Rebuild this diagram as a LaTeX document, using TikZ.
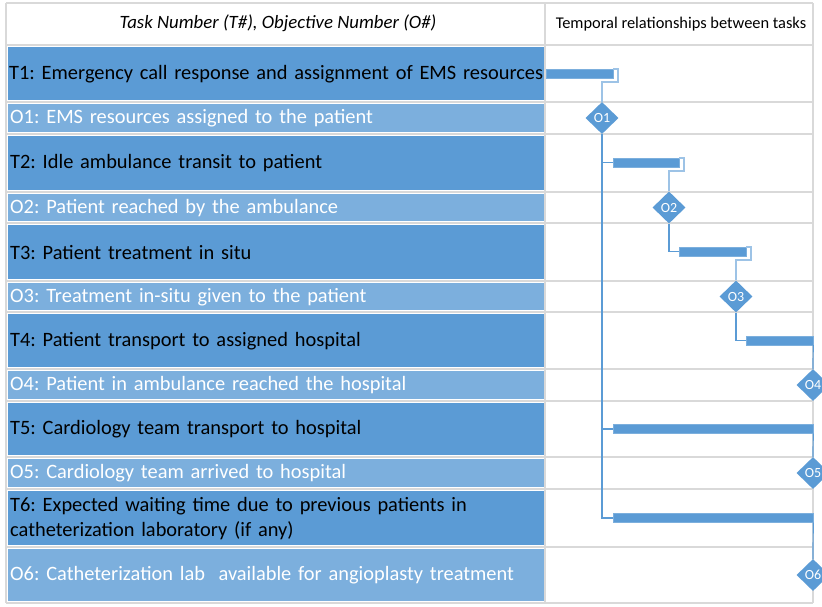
\documentclass[tikz,border=0pt]{standalone}
\usepackage{fontspec}
\setmainfont{Carlito}
\usetikzlibrary{shapes.geometric}
\definecolor{taskblue}{HTML}{5B9BD5}
\definecolor{goalblue}{HTML}{7CAFDD}
\definecolor{gridgray}{HTML}{D9D9D9}
\definecolor{elbowblue}{HTML}{9DC3E6}
\frenchspacing
\tikzset{
  gridline/.style={draw=gridgray, line width=1.2pt},
  taskcell/.style={fill=taskblue, anchor=north west, inner xsep=2pt, inner ysep=0pt,
    text width=532pt, align=left, text=black, font=\fontsize{20.4}{25}\selectfont},
  goalcell/.style={taskcell, fill=goalblue, text=white},
  headtext/.style={inner sep=0pt},
  taskbar/.style={fill=taskblue, draw=taskblue!80, line width=0.4pt, inner sep=0pt, minimum height=9pt},
  milestone/.style={diamond, fill=taskblue, text=white, inner sep=0pt, aspect=1,
    minimum width=33pt, minimum height=32pt, font=\fontsize{14}{14}\selectfont},
  link/.style={draw=taskblue, line width=1.2pt},
  elbow/.style={draw=elbowblue, line width=1.5pt}
}
\begin{document}
\begin{tikzpicture}[x=1pt, y=-1pt]
  \useasboundingbox[fill=white] (0,0) rectangle (822,606);
  % table grid
  \foreach \yy in {3,45,102,134,192,223,281,312,369,401,457,489,547,603}
    \draw[gridline] (6,\yy) -- (813,\yy);
  \foreach \xx in {6,545,813}
    \draw[gridline] (\xx,3) -- (\xx,603);
  % header
  \node[headtext, font=\fontsize{18.8}{19}\selectfont\itshape] (headL) at (278,23) {Task Number (T\#), Objective Number (O\#)};
  \node[headtext, font=\fontsize{16.4}{17}\selectfont] (headR) at (681,24) {Temporal relationships between tasks};
  % cells
  \node[taskcell, minimum height=53pt, inner xsep=1pt, text width=534pt] (t1) at (8,47) {T1: Emergency call response and assignment of EMS resources};
  \node[goalcell, minimum height=28pt] (o1) at (8,104) {O1: EMS resources assigned to the patient};
  \node[taskcell, minimum height=54pt] (t2) at (8,136) {T2: Idle ambulance transit to patient};
  \node[goalcell, minimum height=27pt] (o2) at (8,194) {O2: Patient reached by the ambulance};
  \node[taskcell, minimum height=54pt] (t3) at (8,225) {T3: Patient treatment in situ};
  \node[goalcell, minimum height=27pt] (o3) at (8,283) {O3: Treatment in-situ given to the patient};
  \node[taskcell, minimum height=53pt] (t4) at (8,314) {T4: Patient transport to assigned hospital};
  \node[goalcell, minimum height=28pt] (o4) at (8,371) {O4: Patient in ambulance reached the hospital};
  \node[taskcell, minimum height=52pt] (t5) at (8,403) {T5: Cardiology team transport to hospital};
  \node[goalcell, minimum height=28pt] (o5) at (8,459) {O5: Cardiology team arrived to hospital};
  \node[taskcell, minimum height=54pt] (t6) at (8,491) {T6: Expected waiting time due to previous patients in\\catheterization laboratory (if any)};
  \node[goalcell, minimum height=52pt] (o6) at (8,549) {O6: Catheterization lab\ \ available for angioplasty treatment};
  % bars
  \node[taskbar, minimum width=67pt] (b1) at (579.5,73.5) {};
  \node[taskbar, minimum width=66pt] (b2) at (646,162.5) {};
  \node[taskbar, minimum width=67pt] (b3) at (712.5,251.5) {};
  \node[taskbar, minimum width=67pt] (b4) at (779.5,340.5) {};
  \node[taskbar, minimum width=200pt] (b5) at (713,429) {};
  \node[taskbar, minimum width=200pt] (b6) at (713,518) {};
  % milestones
  \node[milestone] (d1) at (602,118) {O1};
  \node[milestone] (d2) at (669,207.5) {O2};
  \node[milestone] (d3) at (736,296.5) {O3};
  \node[milestone] (d4) at (813,385) {O4};
  \node[milestone] (d5) at (813,473) {O5};
  \node[milestone] (d6) at (813,575) {O6};
  % links
  \draw[elbow] (b1.north east) -- ++(5,0) -- ++(0,13) -| (d1.north);
  \draw[elbow] (b2.north east) -- ++(5,0) -- ++(0,13) -| (d2.north);
  \draw[elbow] (b3.north east) -- ++(5,0) -- ++(0,13) -| (d3.north);
  \draw[link] (d1.south) |- (b6.west);
  \draw[link] (d1.south |- b2.west) -- (b2.west);
  \draw[link] (d1.south |- b5.west) -- (b5.west);
  \draw[link] (d2.south) |- (b3.west);
  \draw[link] (d3.south) |- (b4.west);
  \draw[link] (b4.south east) -- (d4.north);
  \draw[link] (b5.south east) -- (d5.north);
  \draw[link] (b6.south east) -- (d6.north);
\end{tikzpicture}
\end{document}
